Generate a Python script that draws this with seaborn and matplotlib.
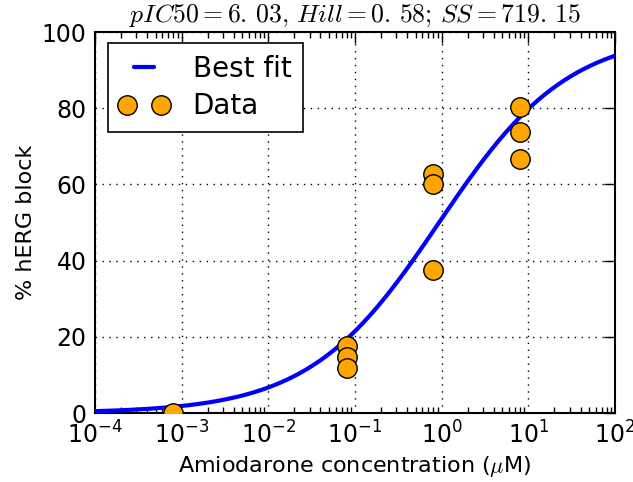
import numpy as np
import pandas as pd
import matplotlib
matplotlib.use("Agg")
import matplotlib.pyplot as plt
from matplotlib.legend_handler import HandlerLine2D
import seaborn as sns

# Measured block at each amiodarone concentration (uM)
conc_um = [0.0008, 0.08, 0.08, 0.08, 0.8, 0.8, 0.8, 8.0, 8.0, 8.0]
block_pct = [0.0, 17.6, 14.8, 11.7, 62.8, 60.2, 37.6, 80.4, 73.7, 66.7]

# Hill fit parameters
pic50 = 6.03
hill = 0.58
ss = 719.15

sns.set_style("white")
plt.rcParams.update({
    "font.family": ["DejaVu Sans"],
    "mathtext.fontset": "cm",
    "text.color": "black",
    "axes.labelcolor": "black",
    "xtick.color": "black",
    "ytick.color": "black",
    "xtick.direction": "in",
    "ytick.direction": "in",
    "xtick.top": True,
    "ytick.right": True,
    "xtick.major.size": 8,
    "ytick.major.size": 8,
    "xtick.minor.size": 4,
    "ytick.minor.size": 4,
    "xtick.major.width": 1.0,
    "ytick.major.width": 1.0,
    "xtick.minor.width": 1.0,
    "ytick.minor.width": 1.0,
    "axes.linewidth": 1.5,
    "axes.edgecolor": "black",
})

fig = plt.figure(figsize=(6.33, 4.82), dpi=100)
ax = fig.add_axes([0.150, 0.143, 0.8216, 0.7906])

# Fitted curve over the concentration range
ic50_um = 10 ** (6 - pic50)
x_fit = np.logspace(-4, 2, 400)
y_fit = 100.0 / (1.0 + (ic50_um / x_fit) ** hill)
fit_df = pd.DataFrame({"conc": x_fit, "block": y_fit})
data_df = pd.DataFrame({"conc": conc_um, "block": block_pct})

sns.lineplot(data=fit_df, x="conc", y="block", ax=ax, color="blue",
             linewidth=3, label="Best fit", zorder=3)
fit_line = ax.get_lines()[-1]
data_line, = ax.plot(data_df["conc"], data_df["block"], linestyle="none",
                     marker="o", markersize=14, markerfacecolor="orange",
                     markeredgecolor="black", markeredgewidth=1.0,
                     label="Data", zorder=4)

ax.set_xscale("log")
ax.set_xlim(1e-4, 1e2)
ax.set_ylim(0, 100)
ax.set_yticks([0, 20, 40, 60, 80, 100])
ax.xaxis.set_minor_locator(matplotlib.ticker.LogLocator(base=10, subs=np.arange(2, 10), numticks=20))
ax.grid(True, which="major", color="black", linestyle=(0, (1, 4)), linewidth=1.0)
ax.tick_params(axis="both", which="major", labelsize=17, pad=6)
ax.tick_params(axis="x", which="minor", top=True, bottom=True, direction="in")

ax.set_xlabel(r"Amiodarone concentration ($\mu$M)", fontsize=16, labelpad=4)
ax.set_ylabel("% hERG block", fontsize=16, labelpad=4)
title = r"$pIC50 = %s,\, Hill = %s;\, SS = %s$" % tuple(
    r"%d.\,%s" % (int(v), ("%.2f" % v).split(".")[1]) for v in (pic50, hill, ss))
ax.set_title(title, fontsize=18.5, pad=7)

# Legend handles inset from the frame edge
handler_map = {
    fit_line: HandlerLine2D(xpad=0.2),
    data_line: HandlerLine2D(xpad=0.2, marker_pad=0.06),
}
leg = ax.legend(handles=[fit_line, data_line], labels=["Best fit", "Data"],
                loc="upper left", numpoints=2, fontsize=20, frameon=True,
                fancybox=False, edgecolor="black", framealpha=1,
                borderpad=0.42, handlelength=1.55, handletextpad=1.08,
                labelspacing=0.33, handler_map=handler_map,
                borderaxespad=0.0, bbox_to_anchor=(0.025, 0.97))
leg.get_frame().set_linewidth(1.2)

fig.savefig("out.png", dpi=100)
